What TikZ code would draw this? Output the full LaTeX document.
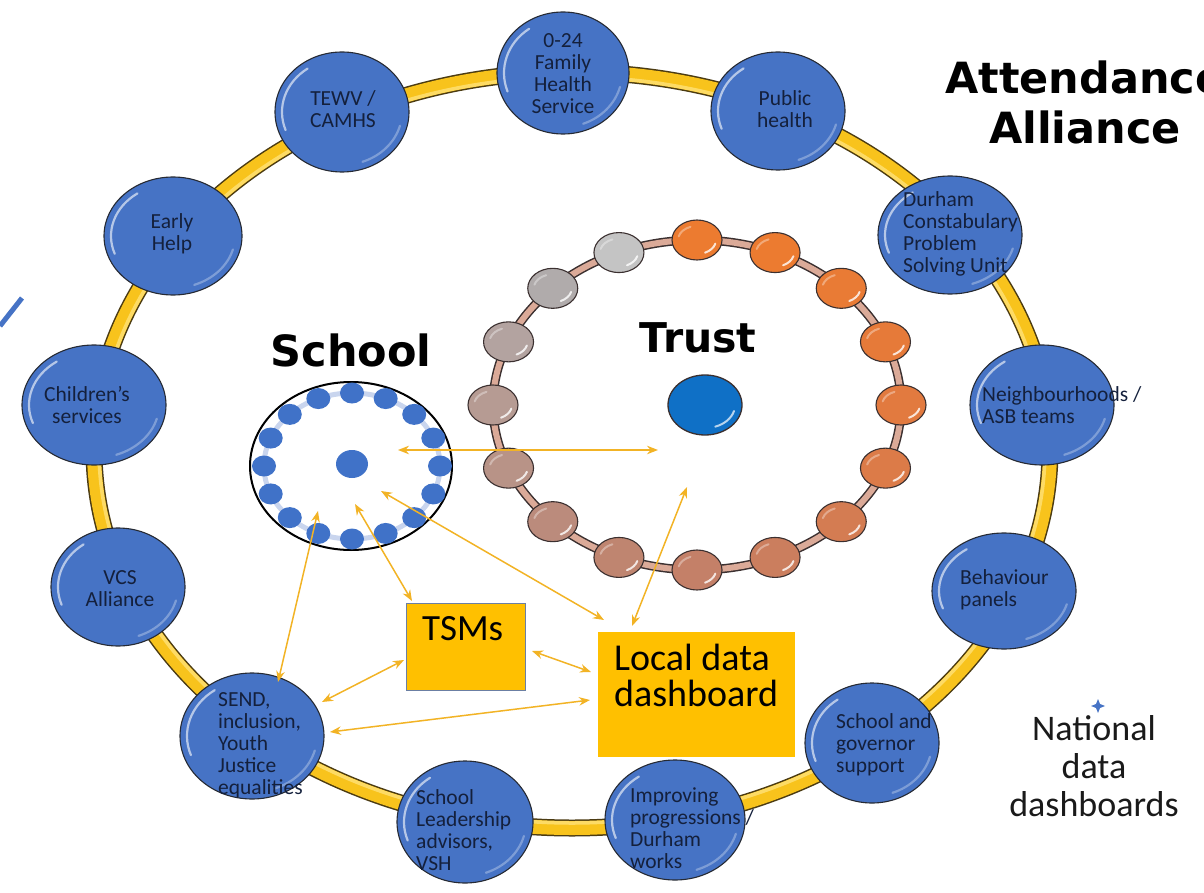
\documentclass[tikz,border=0pt]{standalone}
\usepackage{fontspec}
\setmainfont{Carlito}
\newfontfamily\headfont{DejaVu Sans}
\usetikzlibrary{arrows.meta,shapes.geometric}

\definecolor{nodeblue}{HTML}{4673C5}
\definecolor{nodeedge}{HTML}{262A33}
\definecolor{nodetext}{HTML}{14203C}
\definecolor{bandgold}{HTML}{F8C31C}
\definecolor{bandlight}{HTML}{FFE278}
\definecolor{bandedge}{HTML}{4B3B12}
\definecolor{boxgold}{HTML}{FFC000}
\definecolor{boxedge}{HTML}{6B7FA3}
\definecolor{linkgold}{HTML}{F2B325}
\definecolor{beadband}{HTML}{DBAA98}
\definecolor{beadedge}{HTML}{3B3030}
\definecolor{hubblue}{HTML}{0F70C6}
\definecolor{dotblue}{HTML}{4072C8}
\definecolor{dotring}{HTML}{C9D5EE}
\definecolor{darktext}{HTML}{1A1A1A}
\definecolor{bead0}{HTML}{EC7B30}
\definecolor{bead1}{HTML}{EC7B30}
\definecolor{bead2}{HTML}{E97B35}
\definecolor{bead3}{HTML}{E67A39}
\definecolor{bead4}{HTML}{E27A3F}
\definecolor{bead5}{HTML}{DC7B48}
\definecolor{bead6}{HTML}{D47C52}
\definecolor{bead7}{HTML}{CB7E5E}
\definecolor{bead8}{HTML}{C48068}
\definecolor{bead9}{HTML}{BF8570}
\definecolor{bead10}{HTML}{BB8B7C}
\definecolor{bead11}{HTML}{B89387}
\definecolor{bead12}{HTML}{B69B93}
\definecolor{bead13}{HTML}{B3A3A0}
\definecolor{bead14}{HTML}{B0ABAB}
\definecolor{bead15}{HTML}{C4C4C4}

\begin{document}
\begin{tikzpicture}[x=1pt,y=-1pt,
  ringnode/.style={ellipse, draw=nodeedge, line width=1.1pt, fill=nodeblue, inner sep=0pt},
  ringtext/.style={font=\fontsize{21.5}{22}\selectfont, text=nodetext, inner sep=0pt},
  bead/.style={ellipse, draw=beadedge, line width=1.1pt, minimum width=50pt, minimum height=40pt, inner sep=0pt},
  gloss/.style={white, opacity=.6, line width=2.2pt, line cap=round},
  link/.style={draw=linkgold, line width=1.5pt, arrows={Stealth[length=11pt,width=8.5pt]-Stealth[length=11pt,width=8.5pt]}},
  goldbox/.style={fill=boxgold, inner sep=0pt, anchor=north west},
]
\useasboundingbox (0,0) rectangle (1204,893);
\clip (0,0) rectangle (1204,893);

% outer alliance band
\draw[bandedge, line width=17pt] (572,450) ellipse [x radius=478, y radius=378];
\draw[bandgold, line width=14pt] (572,450) ellipse [x radius=478, y radius=378];
\draw[bandlight, line width=3.5pt, opacity=.8] (572,450) ellipse [x radius=473, y radius=373];

% partner organisations on the band
\foreach \nm/\x/\y/\rx/\ry in {fam/563/73/66/61, tewv/342/112/67/60, pub/778/111/67/59,
    early/173/236/69/59, dur/950/235/72/59, chi/94/405/72/60, nei/1042/405/72/60,
    vcs/118/587/67/59, beh/1004/591/72/58, send/252/736/72/63, sgs/872/743/67/60,
    sla/465/822/68/61, imp/675/820/70/60}{
  \pgfmathsetmacro\ax{\rx-7}
  \pgfmathsetmacro\ay{\ry-7}
  \pgfmathsetmacro\hx{\x+\ax*cos(160)}
  \pgfmathsetmacro\hy{\y+\ay*sin(160)}
  \pgfmathsetmacro\gx{\x+\ax*cos(15)}
  \pgfmathsetmacro\gy{\y+\ay*sin(15)}
  \node[ringnode, minimum width=2*\rx, minimum height=2*\ry] (\nm) at (\x,\y) {};
  \draw[gloss] (\hx,\hy) arc[start angle=160, end angle=235, x radius=\ax, y radius=\ay];
  \draw[gloss, opacity=.3] (\gx,\gy) arc[start angle=15, end angle=70, x radius=\ax, y radius=\ay];
}

\node[ringtext, align=center] (famt) at (563,74) {0-24\\Family\\Health\\Service};
\node[ringtext, align=center] (tewvt) at (343,109) {TEWV /\\CAMHS};
\node[ringtext, align=center] (pubt) at (785,109) {Public\\health};
\node[ringtext, align=center] (earlyt) at (172,234) {Early\\Help};
\node[ringtext, align=center] (chit) at (87,405) {Children’s\\services};
\node[ringtext, align=center] (vcst) at (120,589) {VCS\\Alliance};
\node[ringtext, align=left, anchor=west] (durt) at (903,234) {Durham\\Constabulary\\Problem\\Solving Unit};
\node[ringtext, align=left, anchor=west] (neit) at (982,405) {Neighbourhoods /\\ASB teams};
\node[ringtext, align=left, anchor=west] (beht) at (960,590) {Behaviour\\panels};
\node[ringtext, align=left, anchor=west] (sgst) at (836,745) {School and\\governor\\support};
\node[ringtext, align=left, anchor=west] (impt) at (630,828) {Improving\\progressions /\\Durham\\works};
\node[ringtext, align=left, anchor=west] (slat) at (416,830) {School\\Leadership\\advisors,\\VSH};
\node[ringtext, align=left, anchor=west] (sendt) at (218,745) {SEND,\\inclusion,\\Youth\\Justice\\equalities};

% trust ring of beads
\draw[beadedge, line width=9pt] (697,405) ellipse [x radius=204, y radius=165];
\draw[beadband, line width=6pt] (697,405) ellipse [x radius=204, y radius=165];
\foreach \k in {0,...,15}{
  \pgfmathsetmacro\bx{697+204*cos(90-22.5*\k)}
  \pgfmathsetmacro\by{405-165*sin(90-22.5*\k)}
  \pgfmathsetmacro\hx{\bx+19*cos(15)}
  \pgfmathsetmacro\hy{\by+14*sin(15)}
  \pgfmathsetmacro\gx{\bx+19*cos(195)}
  \pgfmathsetmacro\gy{\by+14*sin(195)}
  \node[bead, fill=bead\k] (bd\k) at (\bx,\by) {};
  \draw[white, opacity=.8, line width=2pt, line cap=round] (\hx,\hy) arc[start angle=15, end angle=65, x radius=19, y radius=14];
  \draw[white, opacity=.35, line width=2pt, line cap=round] (\gx,\gy) arc[start angle=195, end angle=250, x radius=19, y radius=14];
}
\node[ellipse, draw=beadedge, line width=1.3pt, fill=hubblue, minimum width=74pt, minimum height=60pt, inner sep=0pt] (trusthub) at (705,405) {};
\draw[white, opacity=.7, line width=2pt, line cap=round] (734,411) arc[start angle=15, end angle=70, x radius=30, y radius=23];
\node[font=\headfont\bfseries\fontsize{41}{46}\selectfont, inner sep=0pt] (trustlabel) at (698,338) {Trust};

% school ring of dots
\node[ellipse, draw=black, line width=2pt, fill=white, minimum width=202pt, minimum height=168pt, inner sep=0pt] (school) at (351,466) {};
\draw[dotring, line width=5pt] (352,466) ellipse [x radius=88, y radius=73];
\foreach \k in {0,...,15}{
  \pgfmathsetmacro\dx{352+88*cos(90-22.5*\k)}
  \pgfmathsetmacro\dy{466-73*sin(90-22.5*\k)}
  \node[ellipse, fill=dotblue, minimum width=24pt, minimum height=21pt, inner sep=0pt] (sd\k) at (\dx,\dy) {};
}
\node[ellipse, fill=dotblue, minimum width=32pt, minimum height=28pt, inner sep=0pt] (schoolhub) at (352,464) {};
\node[font=\headfont\bfseries\fontsize{43}{48}\selectfont, inner sep=0pt] (schoollabel) at (351,350) {School};

% boxes
\node[goldbox, draw=boxedge, line width=0.8pt, minimum width=119pt, minimum height=87pt] (tsms) at (406,603) {};
\node[font=\fontsize{37}{40}\selectfont, text=black, inner sep=0pt, anchor=base west] (tsmst) at (422,640) {TSMs};
\node[goldbox, minimum width=197pt, minimum height=125pt] (ldash) at (598,632) {};
\node[font=\fontsize{38}{36}\selectfont, text=black, inner sep=0pt, align=left, anchor=west] (ldasht) at (614,675) {Local data\\dashboard};

% national dashboards
\node[font=\fontsize{36}{38}\selectfont, text=darktext, inner sep=0pt, align=center] (natl) at (1094,766) {National\\data\\dashboards};
\fill[nodeblue] (1098,699) -- (1100,704) -- (1105,706) -- (1100,708) -- (1098,713) -- (1096,708) -- (1091,706) -- (1096,704) -- cycle;

% title, running off the right edge
\node[font=\headfont\bfseries\fontsize{43}{50}\selectfont, inner sep=0pt, align=center] (title) at (1085,102) {Attendance\\Alliance};

% edge stroke
\draw[nodeblue, line width=5pt] (0,326) -- (22,298);

% data flows
\coordinate (sA) at (398,450);
\coordinate (tA) at (658,450);
\coordinate (sB) at (381,491);
\coordinate (lB) at (604,620);
\coordinate (sC) at (355,504);
\coordinate (mC) at (412,601);
\coordinate (sD) at (318,511);
\coordinate (eD) at (278,682);
\coordinate (eE) at (322,702);
\coordinate (mE) at (404,660);
\coordinate (eF) at (330,732);
\coordinate (lF) at (590,700);
\coordinate (mG) at (532,651);
\coordinate (lG) at (591,672);
\coordinate (lH) at (632,626);
\coordinate (tH) at (687,487);
\draw[link] (sA) -- (tA);
\draw[link] (sB) -- (lB);
\draw[link] (sC) -- (mC);
\draw[link] (sD) -- (eD);
\draw[link] (eE) -- (mE);
\draw[link] (eF) -- (lF);
\draw[link] (mG) -- (lG);
\draw[link] (lH) -- (tH);
\end{tikzpicture}
\end{document}
